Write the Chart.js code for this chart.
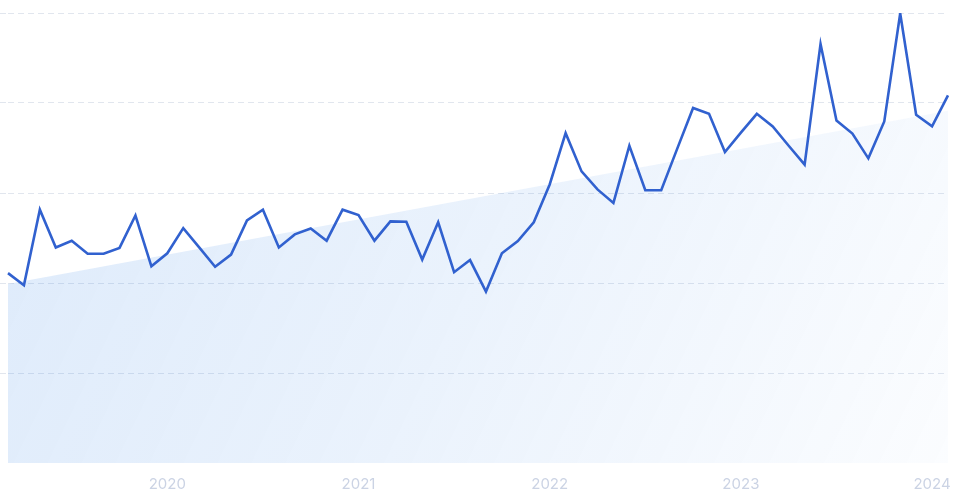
<!DOCTYPE html>
<html>
<head>
<meta charset="utf-8">
<script src="https://cdn.jsdelivr.net/npm/chart.js@4.4.1/dist/chart.umd.min.js"></script>
<style>
  html, body { margin: 0; padding: 0; background: #fff; }
  #wrap { width: 960px; height: 496px; position: relative; }
</style>
</head>
<body>
<div id="wrap"><canvas id="chart"></canvas></div>
<script>
// monthly points, Mar 2019 .. Feb 2024
const startYear = 2019;
const startMonth = 2; // March (0-based)
const monthLabels = [];
for (let i = 0; i < 60; i++) {
  const m = startMonth + i;
  monthLabels.push((startYear + Math.floor(m / 12)) + '-' + String(m % 12 + 1).padStart(2, '0'));
}

const interest = [
  42.2, 39.5, 56.3, 47.9, 49.4, 46.5, 46.5, 47.8, 55.0, 43.7,
  46.6, 52.2, 47.9, 43.6, 46.3, 53.9, 56.3, 47.9, 50.8, 52.1,
  49.4, 56.3, 55.1, 49.4, 53.7, 53.6, 45.2, 53.5, 42.4, 45.1,
  38.1, 46.6, 49.3, 53.5, 61.9, 73.3, 64.8, 60.8, 57.8, 70.5,
  60.6, 60.6, 69.8, 78.9, 77.6, 69.1, 73.4, 77.6, 74.8, 70.5,
  66.3, 93.1, 76.1, 73.2, 67.7, 75.9, 99.9, 77.4, 74.8, 81.7
];

// trend endpoints (first and last month)
const trendStart = 39.8;
const trendEnd = 78.3;
const trend = monthLabels.map((_, i) => i === 0 ? trendStart : (i === monthLabels.length - 1 ? trendEnd : null));

const yTicks = [0, 20, 40, 60, 80, 100];

const ctx = document.getElementById('chart').getContext('2d');

// translucent so the dashed grid shows through the area
function areaGradient(context) {
  const area = context.chart.chartArea;
  if (!area) return 'rgba(50,130,230,0.14)';
  const g = context.chart.ctx.createLinearGradient(area.left, area.top, area.right, area.bottom);
  g.addColorStop(0, 'rgba(50,130,230,0.17)');
  g.addColorStop(0.5, 'rgba(50,130,230,0.10)');
  g.addColorStop(1, 'rgba(50,130,230,0.02)');
  return g;
}

new Chart(ctx, {
  type: 'line',
  data: {
    labels: monthLabels,
    datasets: [
      {
        data: interest,
        borderColor: '#3161cf',
        borderWidth: 2.6,
        pointRadius: 0,
        tension: 0,
        fill: false,
      },
      {
        data: trend,
        spanGaps: true,
        borderWidth: 0,
        borderColor: 'rgba(0,0,0,0)',
        pointRadius: 0,
        fill: 'origin',
        backgroundColor: areaGradient,
      },
    ],
  },
  options: {
    responsive: true,
    maintainAspectRatio: false,
    animation: false,
    layout: { padding: { top: 13, right: 12, bottom: -9, left: 0 } },
    plugins: { legend: { display: false }, tooltip: { enabled: false } },
    scales: {
      x: {
        grid: { display: false, drawTicks: false },
        border: { display: false },
        afterFit: (axis) => { axis.paddingLeft = 0; axis.paddingRight = 0; },
        ticks: {
          autoSkip: false,
          maxRotation: 0,
          padding: 12,
          color: '#cbd3e4',
          font: { family: 'Inter', size: 15 },
          callback: function (val, idx) {
            const lab = monthLabels[idx];
            return lab.endsWith('-01') ? lab.slice(0, 4) : '';
          },
        },
      },
      y: {
        min: yTicks[0],
        max: yTicks[yTicks.length - 1],
        afterBuildTicks: (axis) => { axis.ticks = yTicks.map(v => ({ value: v })); },
        grid: {
          color: (c) => (c.tick && c.tick.value === 0 ? 'rgba(0,0,0,0)' : '#e1e6ee'),
          tickColor: (c) => (c.tick && c.tick.value === 0 ? 'rgba(0,0,0,0)' : '#e1e6ee'),
          tickLength: 8,
          tickBorderDash: [6, 4],
        },
        border: { display: false, dash: [6, 4] },
        ticks: { display: false },
      },
    },
  },
});
</script>
</body>
</html>
